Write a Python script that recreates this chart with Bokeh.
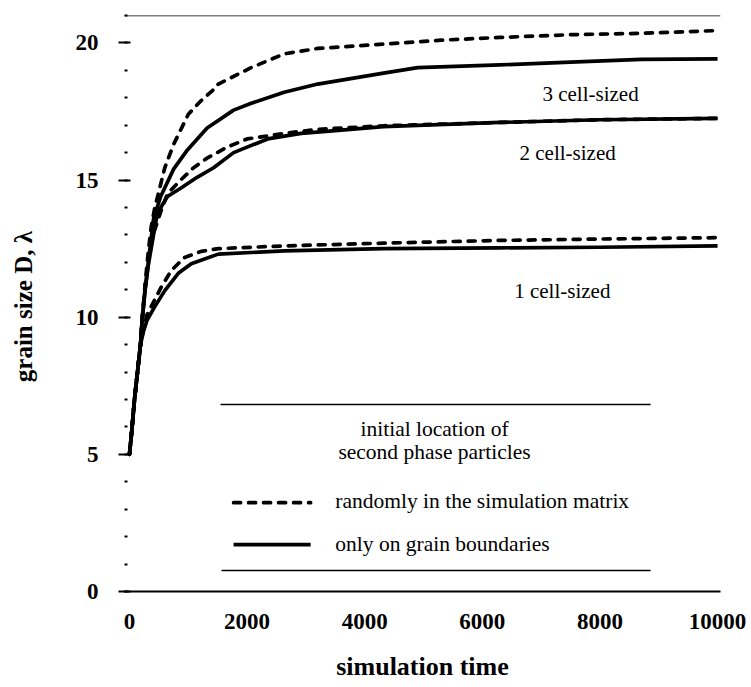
from bokeh.plotting import figure
from bokeh.models import Range1d, FixedTicker, Span
from bokeh.core.properties import value
from bokeh.embed import file_html
from bokeh.resources import INLINE

SERIF = "Liberation Serif"

# grain size vs simulation time, particles placed randomly in the matrix (dashed)
# or only on grain boundaries (solid), for 1-, 2- and 3-cell-sized particles
t_3_rand = [0, 45, 85, 136, 187, 220, 270, 320, 370, 430, 490, 600, 750, 1000,
            1220, 1430, 1510, 2070, 2630, 3200, 4320, 5300, 6300, 7500, 8700, 10000]
d_3_rand = [5.0, 6.0, 7.0, 8.0, 9.0, 10.0, 11.3, 12.4, 13.3, 14.0, 14.5, 15.45, 16.3, 17.4,
            17.9, 18.3, 18.5, 19.1, 19.6, 19.8, 19.96, 20.1, 20.2, 20.3, 20.35, 20.45]

t_3_gb = [0, 45, 85, 136, 187, 215, 265, 320, 410, 530, 750, 985, 1320, 1770,
          2070, 2630, 3200, 3760, 4320, 4900, 6300, 7500, 8700, 10000]
d_3_gb = [5.0, 6.0, 7.0, 8.0, 9.0, 9.9, 11.0, 12.0, 13.6, 14.4, 15.4, 16.1, 16.9, 17.55,
          17.8, 18.2, 18.5, 18.7, 18.9, 19.1, 19.2, 19.3, 19.4, 19.42]

t_2_rand = [0, 45, 85, 136, 187, 212, 260, 320, 400, 540, 645, 870, 1090, 1320,
            1660, 2000, 2630, 3200, 4320, 6300, 8000, 10000]
d_2_rand = [5.0, 6.0, 7.0, 8.0, 9.0, 9.9, 11.0, 12.1, 13.0, 13.9, 14.5, 15.0, 15.45, 15.8,
            16.2, 16.5, 16.7, 16.85, 16.98, 17.1, 17.2, 17.25]

t_2_gb = [0, 45, 85, 136, 187, 212, 260, 320, 400, 475, 645, 870, 1150, 1430,
          1770, 2000, 2350, 2920, 3500, 4320, 6300, 8000, 10000]
d_2_gb = [5.0, 6.0, 7.0, 8.0, 9.0, 9.8, 10.9, 11.9, 12.9, 13.8, 14.4, 14.7, 15.1, 15.45,
          16.0, 16.2, 16.5, 16.7, 16.8, 16.95, 17.1, 17.2, 17.25]

t_1_rand = [0, 45, 85, 136, 187, 240, 300, 420, 540, 710, 930, 1220, 1510,
            2070, 2630, 4320, 6300, 8000, 10000]
d_1_rand = [5.0, 6.0, 7.0, 8.0, 9.0, 9.6, 10.1, 10.6, 11.1, 11.7, 12.17, 12.4, 12.5,
            12.55, 12.6, 12.7, 12.8, 12.85, 12.9]

t_1_gb = [0, 45, 85, 136, 187, 240, 300, 420, 600, 830, 1050, 1510,
          2630, 4320, 6300, 8000, 10000]
d_1_gb = [5.0, 6.0, 7.0, 8.0, 9.0, 9.5, 9.9, 10.35, 10.97, 11.6, 11.95, 12.3,
          12.42, 12.5, 12.53, 12.55, 12.6]

# curve annotations
size_labels = ["3 cell-sized", "2 cell-sized", "1 cell-sized"]
size_label_t = [7840, 7450, 7360]
size_label_d = [18.14, 16.0, 10.97]

x_ticks = [0, 2000, 4000, 6000, 8000, 10000]
y_ticks = [0, 5, 10, 15, 20]
y_minor = list(range(0, 22))

legend_title = ["initial location of", "second phase particles"]
legend_entries = ["randomly in the simulation matrix", "only on grain boundaries"]

p = figure(width=751, height=687, output_backend="svg", toolbar_location=None,
           x_range=Range1d(-85, 10050), y_range=Range1d(0, 21),
           min_border_left=124, min_border_right=31,
           min_border_top=15, min_border_bottom=96)

p.xgrid.visible = False
p.ygrid.visible = False
p.outline_line_alpha = 0
p.background_fill_color = "white"
p.border_fill_color = "white"

# x axis: only the baseline and labels
xa = p.xaxis[0]
xa.ticker = FixedTicker(ticks=x_ticks)
xa.major_tick_in = 0
xa.major_tick_out = 0
xa.minor_tick_in = 0
xa.minor_tick_out = 0
xa.axis_line_width = 2
xa.axis_line_color = "black"
xa.major_label_standoff = 22
xa.major_label_text_font = SERIF
xa.major_label_text_font_style = "bold"
xa.major_label_text_font_size = "23px"
xa.major_label_text_color = "black"
xa.axis_label = "simulation time"
xa.axis_label_text_font = SERIF
xa.axis_label_text_font_style = "bold"
xa.axis_label_text_font_size = "26px"
xa.axis_label_text_color = "black"
xa.axis_label_standoff = 20

# y axis: ticks only, no spine
ya = p.yaxis[0]
ya.ticker = FixedTicker(ticks=y_ticks, minor_ticks=y_minor)
ya.axis_line_alpha = 0
ya.major_tick_in = 6
ya.major_tick_out = 6
ya.major_tick_line_width = 2
ya.minor_tick_in = 3
ya.minor_tick_out = 0
ya.minor_tick_line_width = 2
ya.major_label_standoff = 20
ya.major_label_text_font = SERIF
ya.major_label_text_font_style = "bold"
ya.major_label_text_font_size = "23px"
ya.major_label_text_color = "black"
ya.axis_label = "grain size D,  \u03bb"
ya.axis_label_text_font = SERIF
ya.axis_label_text_font_style = "bold"
ya.axis_label_text_font_size = "25px"
ya.axis_label_text_color = "black"
ya.axis_label_standoff = 36

# top rule of the frame
p.add_layout(Span(location=21, dimension="width", line_color="black", line_width=1.5))

dash_style = dict(line_color="black", line_width=3.7, line_dash="7 8", line_cap="round")
solid_style = dict(line_color="black", line_width=3.7, line_join="round")

p.line(t_3_rand, d_3_rand, **dash_style)
p.line(t_3_gb, d_3_gb, **solid_style)
p.line(t_2_rand, d_2_rand, **dash_style)
p.line(t_2_gb, d_2_gb, **solid_style)
p.line(t_1_rand, d_1_rand, **dash_style)
p.line(t_1_gb, d_1_gb, **solid_style)

p.text(x=size_label_t, y=size_label_d, text=size_labels,
       text_font=value(SERIF), text_font_size="21px", text_color="black",
       text_align="center", text_baseline="middle")

# legend block drawn inside the frame
p.segment(x0=[1548, 1565], y0=[6.82, 0.77], x1=[8861, 8861], y1=[6.82, 0.77],
          line_color="black", line_width=1.5)
p.text(x=[5187, 5187], y=[5.94, 5.07], text=legend_title,
       text_font=value(SERIF), text_font_size="21.5px", text_color="black",
       text_align="center", text_baseline="middle")
p.segment(x0=[1770], y0=[3.24], x1=[3080], y1=[3.24], **dash_style)
p.segment(x0=[1770], y0=[1.71], x1=[3080], y1=[1.71], **solid_style)
p.text(x=[3500, 3500], y=[3.30, 1.75], text=legend_entries,
       text_font=value(SERIF), text_font_size="21.5px", text_color="black",
       text_align="left", text_baseline="middle")

open("out.html", "w").write(file_html(p, INLINE))
